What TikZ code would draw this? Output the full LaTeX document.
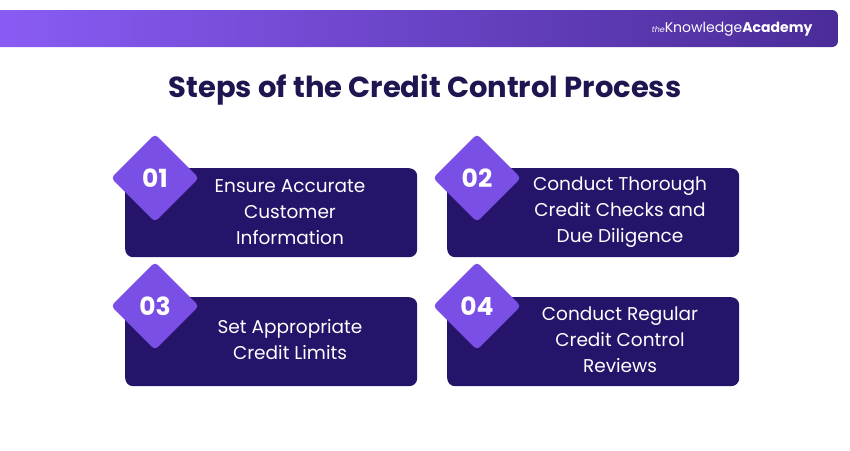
\documentclass[tikz,border=0pt]{standalone}
\usepackage{fontspec}
\setmainfont{Poppins}
\usetikzlibrary{shapes.geometric}
\definecolor{boxblue}{HTML}{25146A}
\definecolor{diamondviolet}{HTML}{7A4FE6}
\definecolor{titlenavy}{HTML}{1E1650}
\definecolor{barleft}{HTML}{8A5CF5}
\definecolor{barright}{HTML}{4A2C98}
\tikzset{
  stepbox/.style={fill=boxblue,rounded corners=8pt,minimum width=292pt,minimum height=89pt},
  stepnum/.style={diamond,fill=diamondviolet,minimum width=88pt,minimum height=88pt,rounded corners=4pt,
    text=white,font=\bfseries\fontsize{25}{27}\selectfont,inner sep=0pt},
  steptext/.style={text=white,align=center,font=\fontsize{18.5}{26}\selectfont}
}
\begin{document}
\begin{tikzpicture}[x=1pt,y=-1pt]
\useasboundingbox (0,0) rectangle (850,450);
% header bar
\shade[left color=barleft,right color=barright,rounded corners=6pt] (-10,10) rectangle (838,47);
\node[text=white,anchor=east,font=\fontsize{14}{16}\selectfont] (logo) at (816,29)
  {{\itshape\fontsize{8}{8}\selectfont the}Knowledge\textbf{Academy}};
\node[text=titlenavy,font=\bfseries\fontsize{29}{32}\selectfont] (title) at (425,90)
  {Steps of the Credit Control Process};
% steps
\node[stepbox,anchor=north west] (box1) at (125,168) {};
\node[stepbox,anchor=north west] (box2) at (447,168) {};
\node[stepbox,anchor=north west] (box3) at (125,297) {};
\node[stepbox,anchor=north west] (box4) at (447,297) {};
\node[stepnum] (num1) at (155,178) {01};
\node[stepnum] (num2) at (477,178) {02};
\node[stepnum] (num3) at (155,306) {03};
\node[stepnum] (num4) at (477,306) {04};
\node[steptext] (text1) at (290,212) {Ensure Accurate\\Customer\\Information};
\node[steptext] (text2) at (620,212) {Conduct Thorough\\Credit Checks and\\Due Diligence};
\node[steptext] (text3) at (290,340) {Set Appropriate\\Credit Limits};
\node[steptext] (text4) at (620,340) {Conduct Regular\\Credit Control\\Reviews};
\end{tikzpicture}
\end{document}
